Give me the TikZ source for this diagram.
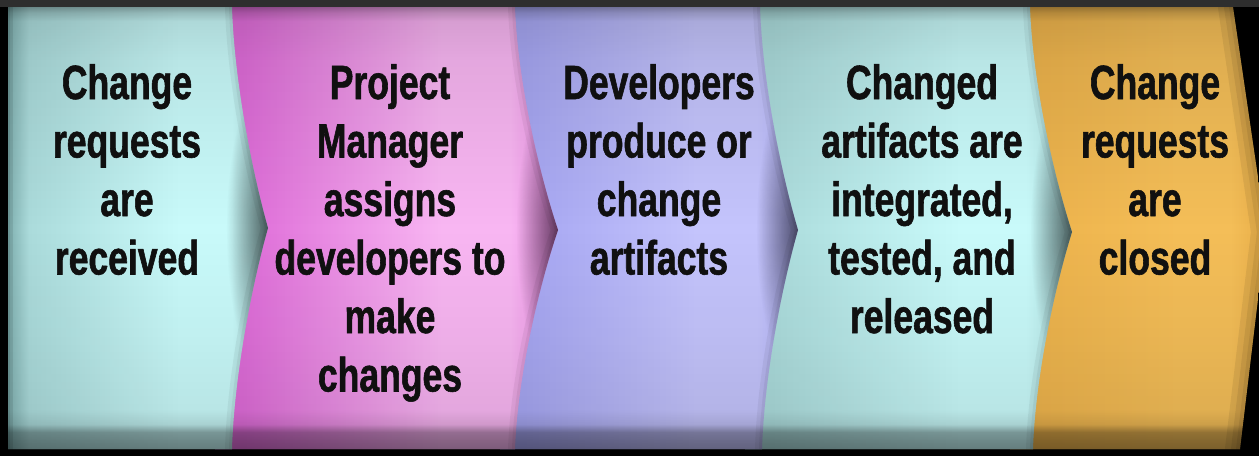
\documentclass[tikz,border=0pt]{standalone}
\usepackage{fontspec}
\newfontfamily\nar[FakeStretch=0.74, BoldFeatures={FakeBold=1.2}]{Liberation Sans}
\usetikzlibrary{fadings}
\colorlet{cEdge}{black}\colorlet{cBase}{black}\colorlet{cLight}{black}\colorlet{cDark}{black}
\pgfdeclarehorizontalshading[cEdge,cBase,cLight,cDark]{panelshade}{100bp}{color(0bp)=(cEdge); color(25bp)=(cEdge); color(29bp)=(cBase); color(58bp)=(cLight); color(68bp)=(cLight); color(75bp)=(cDark); color(100bp)=(cDark)}
\definecolor{g00}{gray}{0}\definecolor{g04}{gray}{0.04}\definecolor{g05}{gray}{0.05}
\definecolor{g08}{gray}{0.08}\definecolor{g13}{gray}{0.13}\definecolor{g16}{gray}{0.16}
\definecolor{g25}{gray}{0.25}\definecolor{g40}{gray}{0.40}\definecolor{g45}{gray}{0.45}
\definecolor{g50}{gray}{0.50}
\pgfdeclareverticalshading{vshade}{100bp}{color(0bp)=(g50); color(25bp)=(g50); color(26.1bp)=(g45); color(27bp)=(g40); color(27.9bp)=(g16); color(29.5bp)=(g08); color(38bp)=(g04); color(50bp)=(g00); color(62bp)=(g05); color(69bp)=(g08); color(73.3bp)=(g13); color(74.3bp)=(g25); color(75bp)=(g40); color(100bp)=(g40)}
\pgfdeclarefading{vfade}{\pgfuseshading{vshade}}
\tikzfading[name=blob, inner color=transparent!45, outer color=transparent!100]
\definecolor{topband}{HTML}{2E2E2E}
\definecolor{cyanE}{HTML}{7FAFAF}\definecolor{cyanB}{HTML}{ABDBDB}\definecolor{cyanL}{HTML}{C9FAFA}\definecolor{cyanD}{HTML}{A8D8D8}
\definecolor{pinkB}{HTML}{DE6CD8}\definecolor{pinkL}{HTML}{F8B6F2}\definecolor{pinkD}{HTML}{E688E0}
\definecolor{blueB}{HTML}{A6A6F2}\definecolor{blueL}{HTML}{C4C4FC}\definecolor{blueD}{HTML}{AEAEF4}
\definecolor{orB}{HTML}{EDB34C}\definecolor{orL}{HTML}{F4BE58}\definecolor{orD}{HTML}{E8AE48}
\definecolor{txt}{HTML}{101010}
\tikzset{
  lbl/.style={font=\nar\bfseries\fontsize{48}{58.5}\selectfont, align=center, text=txt, inner sep=0pt, anchor=base},
  pA/.style={insert path={(8,7) -- (232,7) .. controls (234.2,80) and (251.8,170.5) .. (268,228) .. controls (251.8,285.5) and (234.2,376) .. (232,449) -- (8,449) -- cycle}},
  eA/.style={insert path={(232,-20) -- (232,7) .. controls (234.2,80) and (251.8,170.5) .. (268,228) .. controls (251.8,285.5) and (234.2,376) .. (232,449) -- (232,480)}},
  pB/.style={insert path={(215,7) -- (515,7) .. controls (517.6,80.6) and (538.7,172) .. (558,230) .. controls (538.7,287) and (517.6,376.7) .. (515,449) -- (215,449) -- cycle}},
  eB/.style={insert path={(515,-20) -- (515,7) .. controls (517.6,80.6) and (538.7,172) .. (558,230) .. controls (538.7,287) and (517.6,376.7) .. (515,449) -- (515,480)}},
  pC/.style={insert path={(500,7) -- (760,7) .. controls (762.3,80.6) and (780.9,172) .. (798,230) .. controls (781.8,287) and (764.2,376.7) .. (762,449) -- (500,449) -- cycle}},
  eC/.style={insert path={(760,-20) -- (760,7) .. controls (762.3,80.6) and (780.9,172) .. (798,230) .. controls (781.8,287) and (764.2,376.7) .. (762,449) -- (762,480)}},
  pD/.style={insert path={(745,7) -- (1030,7) .. controls (1032.5,81) and (1053.1,173.5) .. (1072,232) .. controls (1054.5,288.4) and (1035.3,377.4) .. (1033,449) -- (745,449) -- cycle}},
  eD/.style={insert path={(1030,-20) -- (1030,7) .. controls (1032.5,81) and (1053.1,173.5) .. (1072,232) .. controls (1054.5,288.4) and (1035.3,377.4) .. (1033,449) -- (1033,480)}},
  pE/.style={insert path={(1010,7) -- (1233,7) -- (1266,232) -- (1240,449) -- (1010,449) -- cycle}},
  eE/.style={insert path={(1233,-20) -- (1233,7) -- (1266,232) -- (1240,449) -- (1240,480)}},
  shadowstroke/.style={draw=black, line join=round, fill=none},
  tipblob/.style={fill=black, path fading=blob, fit fading=true},
}
\begin{document}
\begin{tikzpicture}[x=1pt,y=-1pt]
\useasboundingbox (0,0) rectangle (1259,456);
\clip (0,0) rectangle (1259,456);
% frame
\fill[black] (0,0) rectangle (1259,456);
\fill[topband] (0,0) rectangle (1259,7);
% panel 5 (orange)
\colorlet{cEdge}{orB}\colorlet{cBase}{orB}\colorlet{cLight}{orL}\colorlet{cDark}{orD}
\shade[shading=panelshade, pE];
\begin{scope}
  \clip[pE];
  \foreach \w in {8,18,30}{\path[shadowstroke, opacity=0.07, line width=\w pt, eE];}
\end{scope}
% panel 4 (cyan)
\colorlet{cEdge}{cyanB}\colorlet{cBase}{cyanB}\colorlet{cLight}{cyanL}\colorlet{cDark}{cyanD}
\shade[shading=panelshade, pD];
\begin{scope}
  \clip[pD];
  \foreach \w in {6,14}{\path[shadowstroke, opacity=0.05, line width=\w pt, eD];}
  \path[tipblob] (1072,232) ellipse [x radius=42, y radius=150];
\end{scope}
% panel 3 (blue)
\colorlet{cEdge}{blueB}\colorlet{cBase}{blueB}\colorlet{cLight}{blueL}\colorlet{cDark}{blueD}
\shade[shading=panelshade, pC];
\begin{scope}
  \clip[pC];
  \foreach \w in {6,14}{\path[shadowstroke, opacity=0.05, line width=\w pt, eC];}
  \path[tipblob] (798,230) ellipse [x radius=42, y radius=150];
\end{scope}
% panel 2 (pink)
\colorlet{cEdge}{pinkB}\colorlet{cBase}{pinkB}\colorlet{cLight}{pinkL}\colorlet{cDark}{pinkD}
\shade[shading=panelshade, pB];
\begin{scope}
  \clip[pB];
  \foreach \w in {6,14}{\path[shadowstroke, opacity=0.05, line width=\w pt, eB];}
  \path[tipblob] (558,230) ellipse [x radius=42, y radius=150];
\end{scope}
% panel 1 (cyan)
\colorlet{cEdge}{cyanE}\colorlet{cBase}{cyanB}\colorlet{cLight}{cyanL}\colorlet{cDark}{cyanD}
\shade[shading=panelshade, pA];
\begin{scope}
  \clip[pA];
  \foreach \w in {6,14}{\path[shadowstroke, opacity=0.05, line width=\w pt, eA];}
  \path[tipblob] (268,228) ellipse [x radius=42, y radius=150];
  \foreach \w in {4,10}{\draw[black, opacity=0.08, line width=\w pt] (8,0) -- (8,456);}
\end{scope}
% vertical bevel darkening
\fill[black, path fading=vfade, fit fading=true] (8,7) rectangle (1259,449);
% labels (anchor = baseline of the last line)
\node[lbl] (t1) at (127,274.5) {Change\\requests\\are\\received};
\node[lbl] (t2) at (390,391.5) {Project\\Manager\\assigns\\developers to\\make\\changes};
\node[lbl] (t3) at (659,274.5) {Developers\\produce or\\change\\artifacts};
\node[lbl] (t4) at (922,333) {Changed\\artifacts are\\integrated,\\tested, and\\released};
\node[lbl] (t5) at (1155,274.5) {Change\\requests\\are\\closed};
\end{tikzpicture}
\end{document}
